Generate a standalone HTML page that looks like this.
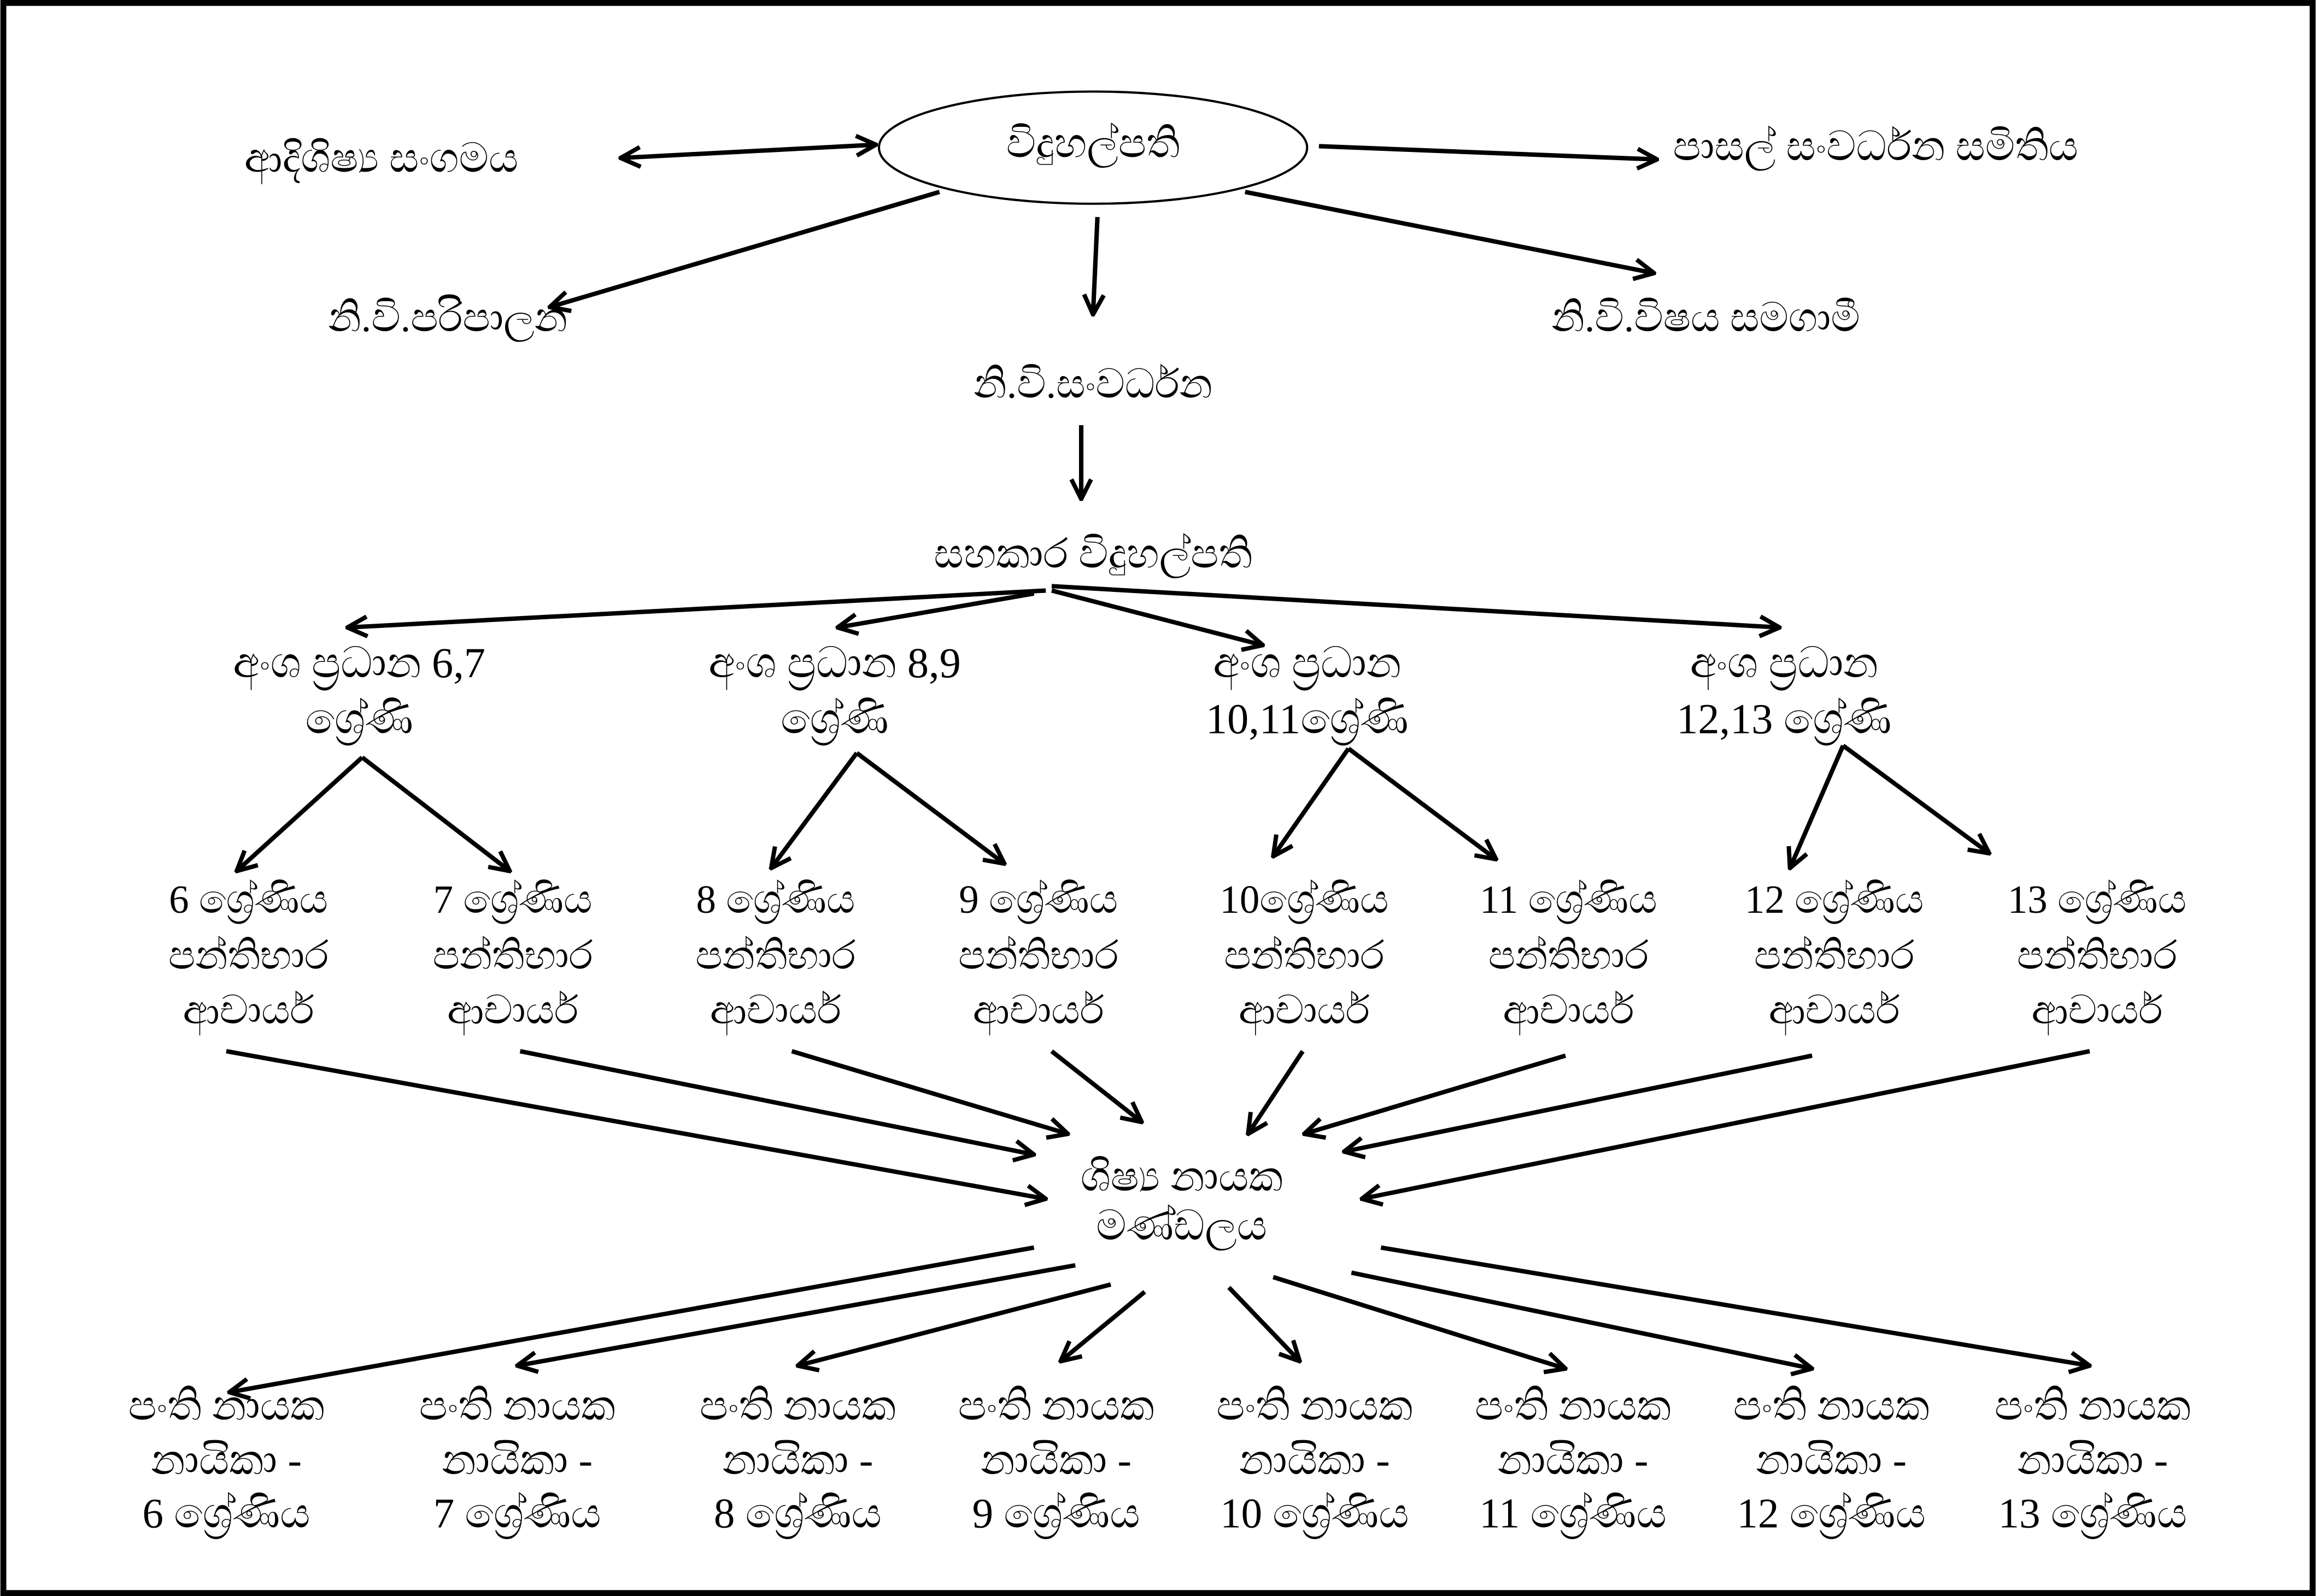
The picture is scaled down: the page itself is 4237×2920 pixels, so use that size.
<!DOCTYPE html>
<html><head><meta charset="utf-8"><style>
html,body{margin:0;padding:0;background:#fff}
svg{display:block}
text{font-family:"Liberation Serif","DejaVu Serif",serif;fill:#000;text-anchor:middle;dominant-baseline:middle}
</style></head><body>
<svg width="4237" height="2920" viewBox="0 0 1568 1081" xmlns="http://www.w3.org/2000/svg">
<defs>
<marker id="b" viewBox="0 0 12 12" refX="11" refY="6" markerWidth="16" markerHeight="16" orient="auto-start-reverse" markerUnits="userSpaceOnUse"><path d="M1,1 L11,6 L1,11" fill="none" stroke="#000" stroke-width="2.2"/></marker></defs>
<rect x="2" y="2" width="1564" height="1077" fill="#fff" stroke="#000" stroke-width="4"/>
<ellipse cx="740" cy="100" rx="145" ry="38" fill="#fff" stroke="#000" stroke-width="1.5"/>
<g stroke="#000" stroke-width="3" fill="none" marker-end="url(#b)">
<line x1="420" y1="107" x2="593" y2="98" marker-start="url(#b)"/>
<line x1="893" y1="99" x2="1122" y2="108"/>
<line x1="636" y1="130" x2="372" y2="208"/>
<line x1="743" y1="147" x2="740" y2="213"/>
<line x1="843" y1="130" x2="1120" y2="185"/>
<line x1="732" y1="288" x2="732" y2="338"/>
<line x1="708" y1="400" x2="235" y2="425"/>
<line x1="700" y1="402" x2="567" y2="425"/>
<line x1="712" y1="400" x2="855" y2="437"/>
<line x1="712" y1="397" x2="1205" y2="425"/>
<line x1="245" y1="513" x2="160" y2="590"/>
<line x1="245" y1="513" x2="345" y2="590"/>
<line x1="580" y1="510" x2="522" y2="588"/>
<line x1="580" y1="510" x2="680" y2="585"/>
<line x1="913" y1="507" x2="862" y2="580"/>
<line x1="913" y1="507" x2="1013" y2="582"/>
<line x1="1248" y1="505" x2="1212" y2="588"/>
<line x1="1248" y1="505" x2="1347" y2="578"/>
<line x1="153" y1="712" x2="708" y2="812"/>
<line x1="352" y1="712" x2="700" y2="782"/>
<line x1="536" y1="712" x2="723" y2="768"/>
<line x1="712" y1="712" x2="773" y2="760"/>
<line x1="882" y1="712" x2="845" y2="768"/>
<line x1="1060" y1="715" x2="883" y2="768"/>
<line x1="1227" y1="715" x2="910" y2="780"/>
<line x1="1415" y1="712" x2="922" y2="812"/>
<line x1="700" y1="845" x2="155" y2="943"/>
<line x1="728" y1="857" x2="350" y2="925"/>
<line x1="752" y1="870" x2="540" y2="925"/>
<line x1="775" y1="875" x2="718" y2="922"/>
<line x1="832" y1="872" x2="880" y2="922"/>
<line x1="862" y1="865" x2="1060" y2="927"/>
<line x1="915" y1="862" x2="1227" y2="927"/>
<line x1="935" y1="845" x2="1415" y2="925"/>
</g>
<g font-size="28">
<text x="258" y="110">ආදිශිෂ්‍ය සංගමය</text>
<text x="740" y="100">විදුහල්පති</text>
<text x="1270" y="102">පාසල් සංවර්ධන සමිතිය</text>
<text x="740" y="378">සහකාර විදුහල්පති</text>
</g>
<g font-size="28.5">
<text x="800" y="800">ශිෂ්‍ය නායක</text>
<text x="800" y="833">මණ්ඩලය</text>
</g>
<g font-size="27.5">
<text x="303" y="218">නි.වි.පරිපාලන</text>
<text x="1155" y="218">නි.වි.විෂය සමගාමී</text>
<text x="740" y="263">නි.වි.සංවර්ධන</text>
</g>
<g font-size="29">
<text x="243" y="452">අංශ ප්‍රධාන 6,7</text><text x="243" y="490">ශ්‍රේණි</text>
<text x="565" y="452">අංශ ප්‍රධාන 8,9</text><text x="565" y="490">ශ්‍රේණි</text>
<text x="885" y="452">අංශ ප්‍රධාන</text><text x="885" y="490">10,11ශ්‍රේණි</text>
<text x="1208" y="452">අංශ ප්‍රධාන</text><text x="1208" y="490">12,13 ශ්‍රේණි</text>
</g>
<g font-size="27">
<text x="168" y="612">6 ශ්‍රේණිය</text><text x="168" y="650">පන්තිභාර</text><text x="168" y="687">ආචාර්ය</text>
<text x="347" y="612">7 ශ්‍රේණිය</text><text x="347" y="650">පන්තිභාර</text><text x="347" y="687">ආචාර්ය</text>
<text x="525" y="612">8 ශ්‍රේණිය</text><text x="525" y="650">පන්තිභාර</text><text x="525" y="687">ආචාර්ය</text>
<text x="703" y="612">9 ශ්‍රේණිය</text><text x="703" y="650">පන්තිභාර</text><text x="703" y="687">ආචාර්ය</text>
<text x="883" y="612">10ශ්‍රේණිය</text><text x="883" y="650">පන්තිභාර</text><text x="883" y="687">ආචාර්ය</text>
<text x="1062" y="612">11 ශ්‍රේණිය</text><text x="1062" y="650">පන්තිභාර</text><text x="1062" y="687">ආචාර්ය</text>
<text x="1242" y="612">12 ශ්‍රේණිය</text><text x="1242" y="650">පන්තිභාර</text><text x="1242" y="687">ආචාර්ය</text>
<text x="1420" y="612">13 ශ්‍රේණිය</text><text x="1420" y="650">පන්තිභාර</text><text x="1420" y="687">ආචාර්ය</text>
</g>
<g font-size="28.5">
<text x="153" y="955">පංති නායක</text><text x="153" y="992">නායිකා -</text><text x="153" y="1028">6 ශ්‍රේණිය</text>
<text x="350" y="955">පංති නායක</text><text x="350" y="992">නායිකා -</text><text x="350" y="1028">7 ශ්‍රේණිය</text>
<text x="540" y="955">පංති නායක</text><text x="540" y="992">නායිකා -</text><text x="540" y="1028">8 ශ්‍රේණිය</text>
<text x="715" y="955">පංති නායක</text><text x="715" y="992">නායිකා -</text><text x="715" y="1028">9 ශ්‍රේණිය</text>
<text x="890" y="955">පංති නායක</text><text x="890" y="992">නායිකා -</text><text x="890" y="1028">10 ශ්‍රේණිය</text>
<text x="1065" y="955">පංති නායක</text><text x="1065" y="992">නායිකා -</text><text x="1065" y="1028">11 ශ්‍රේණිය</text>
<text x="1240" y="955">පංති නායක</text><text x="1240" y="992">නායිකා -</text><text x="1240" y="1028">12 ශ්‍රේණිය</text>
<text x="1417" y="955">පංති නායක</text><text x="1417" y="992">නායිකා -</text><text x="1417" y="1028">13 ශ්‍රේණිය</text>
</g>
</svg>
</body></html>
